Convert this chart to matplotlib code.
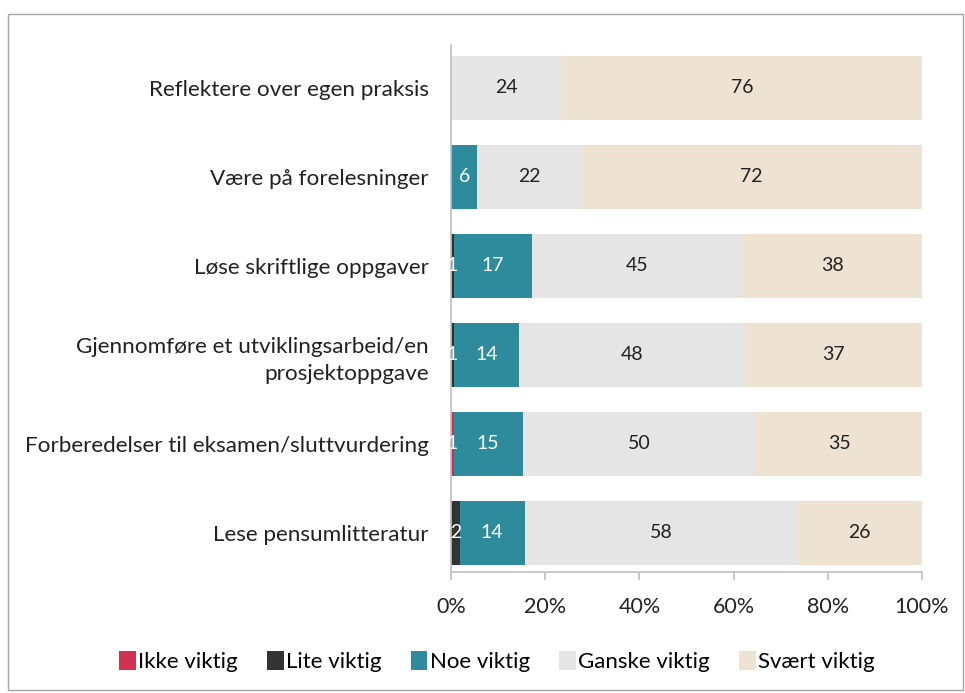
import matplotlib
matplotlib.use("Agg")
import matplotlib.pyplot as plt
from matplotlib.patches import Rectangle
import numpy as np

plt.rcParams['font.family'] = ['Lato', 'DejaVu Sans']

# data (bottom to top)
categories = [
    "Lese pensumlitteratur",
    "Forberedelser til eksamen/sluttvurdering",
    "Gjennomføre et utviklingsarbeid/en\nprosjektoppgave",
    "Løse skriftlige oppgaver",
    "Være på forelesninger",
    "Reflektere over egen praksis",
]
series_names = ["Ikke viktig", "Lite viktig", "Noe viktig", "Ganske viktig", "Svært viktig"]
ikke_viktig = [0.0, 0.6, 0.0, 0.0, 0.0, 0.0]
lite_viktig = [1.8, 0.0, 0.6, 0.6, 0.0, 0.0]
noe_viktig = [13.8, 14.6, 13.8, 16.6, 5.6, 0.0]
ganske_viktig = [58.0, 49.6, 48.2, 44.6, 22.0, 23.6]
svaert_viktig = [26.4, 35.2, 37.4, 38.2, 72.4, 76.4]

colors = ["#D1304F", "#333333", "#2E8B9B", "#E5E5E5", "#EEE2D2"]
label_colors = ["white", "white", "white", "#222222", "#222222"]

fig = plt.figure(figsize=(9.65, 6.93), dpi=100)
fig.patches.append(Rectangle((0.008, 0.004), 0.990, 0.976, transform=fig.transFigure,
                             fill=False, edgecolor="#A6A6A6", linewidth=1.0))

ax = fig.add_axes([0.4674, 0.1746, 0.488, 0.7605])
y = np.arange(len(categories))
left = np.zeros(len(categories))
for name, vals, col, lc in zip(series_names,
                               [ikke_viktig, lite_viktig, noe_viktig, ganske_viktig, svaert_viktig],
                               colors, label_colors):
    vals = np.array(vals)
    ax.barh(y, vals, left=left, height=0.72, color=col, label=name)
    for yi, l, v in zip(y, left, vals):
        if v > 0:
            ax.text(l + v / 2, yi, f"{round(v):d}", ha="center", va="center",
                    color=lc, fontsize=14)
    left += vals

ax.set_xlim(0, 100)
ax.set_ylim(-0.44, 5.48)
ax.set_yticks(y)
ax.set_yticklabels(categories, fontsize=16.2, color="#222222", linespacing=1.45)
ax.set_xticks(np.arange(0, 101, 20))
ax.set_xticklabels([f"{t}%" for t in range(0, 101, 20)], fontsize=15.5, color="#222222")
ax.tick_params(axis="y", length=0, pad=16)
ax.tick_params(axis="x", length=6, color="#BFBFBF", width=1.2, pad=12)
for s in ["top", "right"]:
    ax.spines[s].set_visible(False)
for s in ["left", "bottom"]:
    ax.spines[s].set_color("#BFBFBF")
    ax.spines[s].set_linewidth(1.2)

handles, labels = ax.get_legend_handles_labels()
fig.legend(handles, labels, loc="center", bbox_to_anchor=(0.515, 0.045), ncol=5,
           frameon=False, fontsize=16, handlelength=0.75, handleheight=0.95,
           handletextpad=0.12, columnspacing=1.3)

fig.savefig("out.png", dpi=100)
